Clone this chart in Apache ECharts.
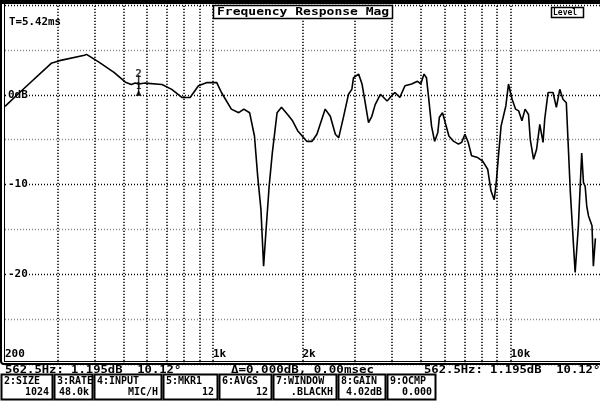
<!DOCTYPE html>
<html><head><meta charset="utf-8">
<script src="https://cdn.jsdelivr.net/npm/echarts@6/dist/echarts.min.js"></script>
<style>html,body{margin:0;padding:0;background:#fff}#c{width:600px;height:406px}</style>
</head><body><div id="c"></div>
<script>
// ---- data ----
const freqHz = [200,224,286,305,370,376,415,465,508,532,548,562.5,592,674,727,786,838,894,951,1030,
1068,1153,1221,1270,1328,1379,1414,1450,1480,1506,1545,1583,1643,1700,1782,1852,1926,2070,2151,2236,
2384,2480,2579,2646,2746,2855,2930,2968,3088,3170,3250,3334,3420,3510,3655,3850,3990,4090,4250,4420,
4655,4870,4995,5123,5220,5300,5430,5560,5700,5770,5910,6060,6210,6450,6690,6860,7030,7210,7400,7760,
8066,8385,8600,8820,8960,9130,9300,9650,9850,10000,10130,10400,10660,10930,11200,11500,11660,11960,12240,12550,
12870,13040,13380,13900,14270,14650,15020,15410,15610,15900,16500,16920,17360,17600,17830,18050,18300,18800,19000,19300];
const levelDb = [-1.3,0.25,3.5,3.8,4.4,4.5,3.6,2.5,1.4,1.15,1.3,1.195,1.3,1.15,0.6,-0.3,-0.3,1.0,1.35,1.35,
0.25,-1.6,-2.0,-1.6,-2.0,-4.6,-9.1,-12.8,-19.1,-15.4,-10.2,-6.5,-2.0,-1.4,-2.2,-2.9,-4.0,-5.2,-5.2,-4.4,
-1.6,-2.4,-4.4,-4.8,-2.5,0.05,0.6,1.9,2.3,1.2,-0.9,-3.1,-2.4,-1.1,0.05,-0.7,-0.1,0.25,-0.3,1.0,
1.2,1.5,1.2,2.3,1.9,-0.1,-3.5,-5.2,-4.2,-2.5,-2.0,-3.3,-4.6,-5.2,-5.5,-5.3,-4.4,-5.3,-6.8,-7.0,
-7.4,-8.3,-10.7,-11.7,-9.8,-6.5,-3.5,-1.25,1.2,0.25,-0.5,-1.6,-1.8,-2.9,-1.6,-2.2,-5.0,-7.2,-6.1,-3.3,
-5.3,-2.7,0.25,0.25,-1.4,0.6,-0.5,-0.9,-5.0,-10.9,-19.8,-14.6,-6.5,-9.8,-10.2,-12.4,-13.5,-14.6,-19.1,-16.0];
const gridFreqs = [300,400,500,600,700,800,900,1000,2000,3000,4000,5000,6000,7000,8000,9000,10000];
const xTickValues = [200,1000,2000,10000];
const xTickLabels = ['200','1k','2k','10k'];
const yTickValues = [0,-10,-20];
const yTickLabels = ['0dB','-10','-20'];
const markerFreq = 562.5, markerDb = 1.195;
const titleText = 'Frequency Response Mag';
const timeText = 'T=5.42ms';
const cursorText = '562.5Hz: 1.195dB  10.12\u00b0';
const deltaText = '\u0394=0.000dB, 0.00msec';
const boxLabels = ['2:SIZE','3:RATE','4:INPUT','5:MKR1','6:AVGS','7:WINDOW','8:GAIN','9:OCMP'];
const boxValues = ['1024','48.0k','MIC/H','12','12','.BLACKH','4.02dB','0.000'];

// ---- layout ----
const FONT = 'bold 10px "DejaVu Sans Mono"';
const boxX = [1,54,94,163,219,273,338,387];
const boxW = [51,38,67,54,52,63,47,48];
const g = [];
function txt(t, x, y, sx, font) {
  g.push({type:'text', x:x, y:y, scaleX:sx||1.25, z:10,
    style:{text:t, font:font||FONT, fill:'#000', align:'left', verticalAlign:'top'}});
}
// frame
g.push({type:'rect', shape:{x:1,y:1,width:640,height:363,r:3}, style:{fill:'none',stroke:'#000',lineWidth:2}, z:5});
g.push({type:'rect', shape:{x:0,y:0,width:600,height:4}, style:{fill:'#000'}, z:5});
g.push({type:'line', shape:{x1:4.5,y1:4,x2:4.5,y2:362}, style:{stroke:'#000',lineWidth:1}, z:5});
g.push({type:'line', shape:{x1:4,y1:361.5,x2:600,y2:361.5}, style:{stroke:'#000',lineWidth:1}, z:5});
// title box
g.push({type:'rect', shape:{x:213.5,y:5.5,width:179,height:13}, style:{fill:'#fff',stroke:'#000',lineWidth:1.5}, z:9});
txt(titleText, 217, 7, 1.3);
// level box
g.push({type:'rect', shape:{x:551.5,y:7.5,width:32,height:10}, style:{fill:'#fff',stroke:'#000',lineWidth:1.5}, z:9});
txt('Level', 553, 8.5, 1.0, 'bold 8px "DejaVu Sans Mono"');
txt(timeText, 9, 17, 1.08);
// cursor text row
txt(cursorText, 5, 365, 1.22);
txt(deltaText, 231, 365, 1.25);
txt(cursorText, 424, 365, 1.22);
// bottom boxes
const BS = 1.0;
for (let i = 0; i < boxLabels.length; i++) {
  g.push({type:'rect', shape:{x:boxX[i]+0.5,y:374.5,width:boxW[i],height:25}, style:{fill:'#fff',stroke:'#000',lineWidth:2}, z:9});
  txt(boxLabels[i], boxX[i]+3, 376.5, BS);
  const vw = boxValues[i].length * 6.02 * BS;
  txt(boxValues[i], boxX[i]+boxW[i]-3-vw, 387.5, BS);
}

const chart = echarts.init(document.getElementById('c'), null, {renderer:'canvas'});
chart.setOption({
  backgroundColor:'#fff',
  animation:false,
  grid:{left:5, right:-5, top:5, bottom:42, containLabel:false},
  xAxis:{type:'log', logBase:10, min:200, max:20000,
    axisLine:{show:false}, axisTick:{show:false}, splitLine:{show:false},
    axisLabel:{show:true, inside:true, customValues:xTickValues, align:'left', margin:4,
      fontFamily:'DejaVu Sans Mono', fontWeight:'bold', fontSize:11, color:'#000',
      formatter:function(v){const i=xTickValues.indexOf(+v);return i>=0?xTickLabels[i]:'';}}},
  yAxis:{type:'value', min:-30, max:10, interval:5,
    axisLine:{show:false}, axisTick:{show:false},
    splitLine:{show:true, lineStyle:{color:['#000','#888'], type:[1,2], width:1.3}},
    axisLabel:{show:true, inside:true, margin:3, verticalAlign:'middle',
      fontFamily:'DejaVu Sans Mono', fontWeight:'bold', fontSize:11, color:'#000',
      backgroundColor:'#fff', padding:[0,1,0,0],
      formatter:function(v){const i=yTickValues.indexOf(+v);return i>=0?yTickLabels[i]:'';}}},
  series:[
    {type:'line', data:freqHz.map((f,i)=>[f,levelDb[i]]), showSymbol:false, symbol:'none',
     lineStyle:{color:'#000', width:1.6}, z:4,
     markLine:{silent:true, symbol:['none','none'], label:{show:false},
       lineStyle:{color:'#000', type:[1.3,1.7], width:1.5},
       data:gridFreqs.map(f=>({xAxis:f}))}},
    {type:'scatter', z:6, silent:true,
     data:[
       {value:[markerFreq, markerDb], symbol:'rect', symbolSize:[1.5,20], symbolOffset:[0,1], itemStyle:{color:'#000'},
        label:{show:true, position:'top', distance:-5, formatter:'2', fontFamily:'DejaVu Sans Mono', fontWeight:'bold', fontSize:11, color:'#000'}},
       {value:[markerFreq, markerDb], symbol:'triangle', symbolSize:6, symbolOffset:[0,9], itemStyle:{color:'#000'},
        label:{show:true, position:'top', distance:-1, formatter:'1', fontFamily:'DejaVu Sans Mono', fontWeight:'bold', fontSize:9, color:'#000'}}
     ]}
  ],
  graphic:g
});
</script></body></html>
